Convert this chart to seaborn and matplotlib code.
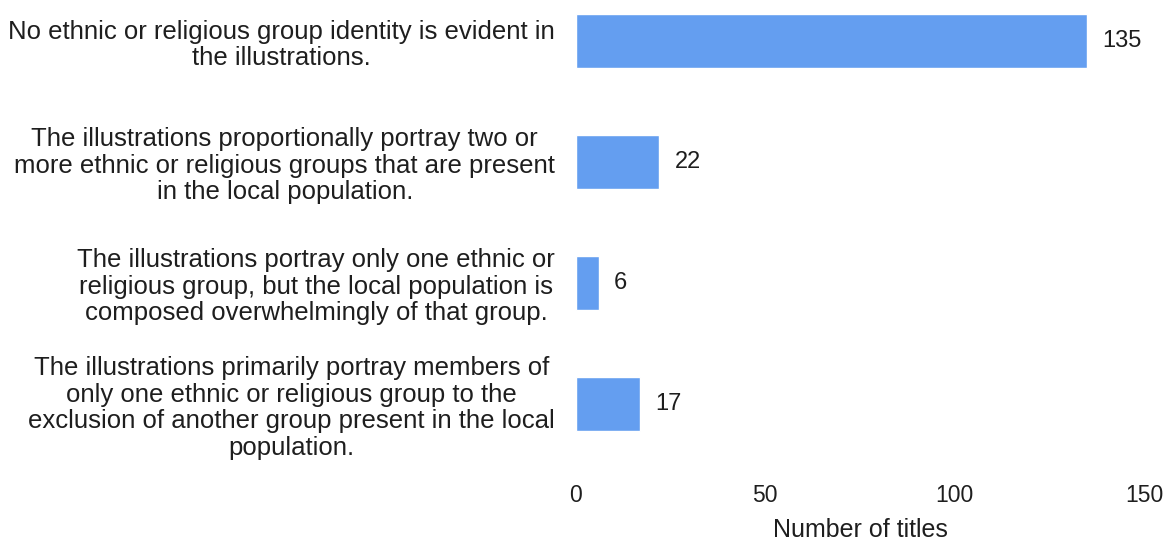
import matplotlib
matplotlib.use("Agg")
import matplotlib.pyplot as plt
import seaborn as sns
import pandas as pd

categories = [
    "No ethnic or religious group identity is evident in\nthe illustrations.",
    "The illustrations proportionally portray two or\nmore ethnic or religious groups that are present\nin the local population.",
    "The illustrations portray only one ethnic or\nreligious group, but the local population is\ncomposed overwhelmingly of that group.",
    "The illustrations primarily portray members of\nonly one ethnic or religious group to the\nexclusion of another group present in the local\npopulation.",
]
titles = [135, 22, 6, 17]
x_ticks = [0, 50, 100, 150]
x_label = "Number of titles"

sns.set_theme(style="white")
plt.rcParams["font.family"] = ["Liberation Sans", "DejaVu Sans"]

df = pd.DataFrame({"category": categories, "titles": titles})

fig = plt.figure(figsize=(11.69, 5.43), dpi=100)
ax = fig.add_axes([0.4927, 0.1344, 0.4859, 0.8656])

sns.barplot(data=df, x="titles", y="category", orient="h", color="#649ef0",
            saturation=1, width=0.44, ax=ax)

text_color = "#1e1e1e"
ax.set_xlim(0, 150)
ax.set_ylim(3.545, -0.339)
ax.set_xticks(x_ticks)
ax.set_xticklabels([str(t) for t in x_ticks], fontsize=16.5, color=text_color)
ax.tick_params(axis="x", length=0, pad=10)
ax.tick_params(axis="y", length=0, pad=15)
for lbl in ax.get_yticklabels():
    lbl.set_fontsize(18.5)
    lbl.set_color(text_color)
    lbl.set_multialignment("center")
    lbl.set_linespacing(1.13)
ax.set_ylabel("")
ax.set_xlabel(x_label, fontsize=18, color=text_color, labelpad=8)

for container in ax.containers:
    ax.bar_label(container, padding=11, fontsize=17, color=text_color)

sns.despine(ax=ax, left=True, bottom=True, top=True, right=True)

fig.savefig("out.png", dpi=100, facecolor="white")
